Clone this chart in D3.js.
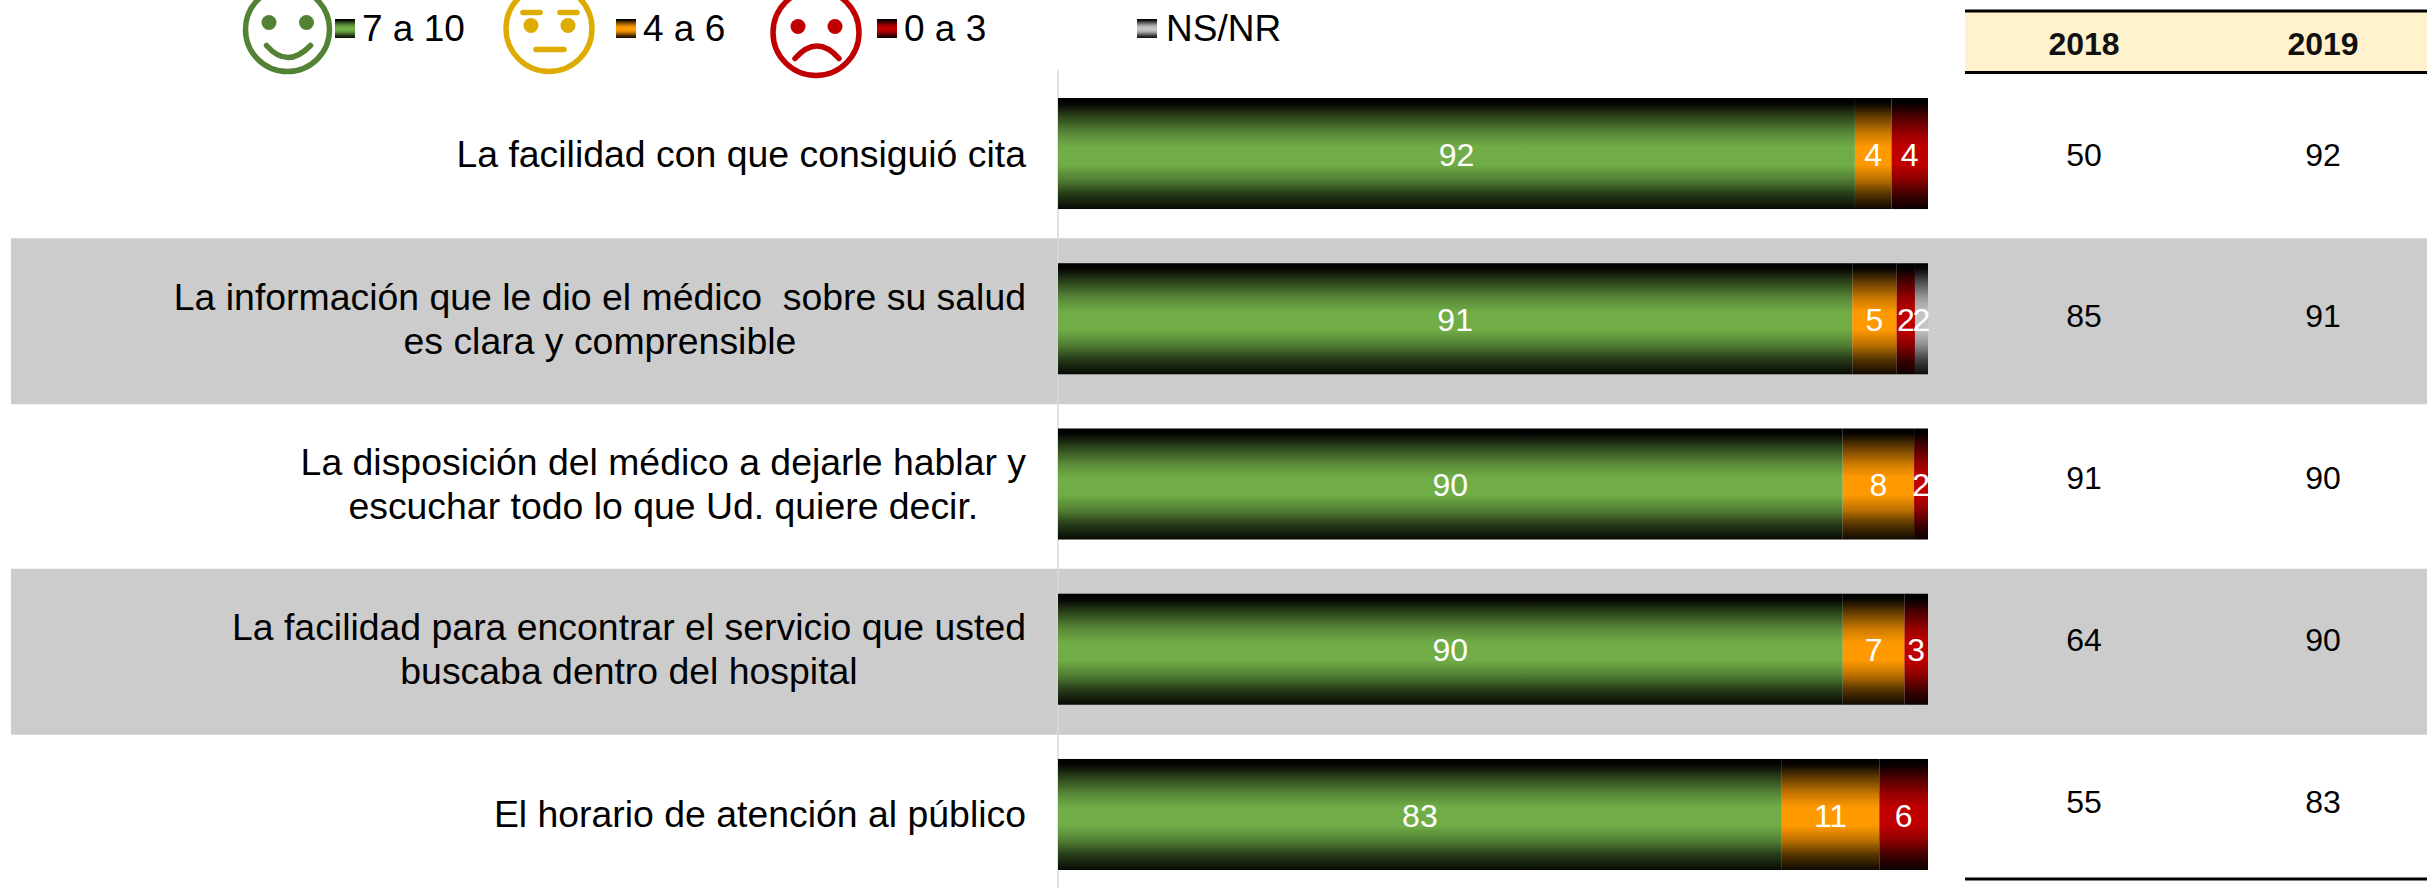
<!DOCTYPE html>
<html>
<head>
<meta charset="utf-8">
<script src="https://cdn.jsdelivr.net/npm/d3@7"></script>
<style>
    html, body { margin: 0; padding: 0; background: #fff; }
    svg { display: block; }
    text { font-family: "Liberation Sans", Arial, sans-serif; white-space: pre; }
</style>
</head>
<body>
<div id="chart"></div>
<script>
const questions = [
    ['La facilidad con que consiguió cita'],
    ['La información que le dio el médico  sobre su salud', 'es clara y comprensible'],
    ['La disposición del médico a dejarle hablar y', 'escuchar todo lo que Ud. quiere decir.'],
    ['La facilidad para encontrar el servicio que usted', 'buscaba dentro del hospital'],
    ['El horario de atención al público'],
]
const categories = ['facilidad', 'informacion', 'disposicion', 'servicio', 'horario']
const seriesNames = ['7 a 10', '4 a 6', '0 a 3', 'NS/NR']
const seriesColors = ['#70ad47', '#ff9900', '#c00000', '#c4c4c4']

// bar lengths, labels are the rounded figures it prints
const high = [91.6, 91.3, 90.2, 90.2, 83.2]
const mid = [4.2, 5.1, 8.2, 7.1, 11.2]
const low = [4.2, 2.1, 1.6, 2.7, 5.6]
const noAnswer = [0, 1.5, 0, 0, 0]
const highLabels = [92, 91, 90, 90, 83]
const midLabels = [4, 5, 8, 7, 11]
const lowLabels = [4, 2, 2, 3, 6]
const noAnswerLabels = [null, 2, null, null, null]

const years = ['2018', '2019']
const table2018 = [50, 85, 91, 64, 55]
const table2019 = [92, 91, 90, 90, 83]

const width = 2427
const height = 888

const svg = d3.select('#chart').append('svg')
    .attr('width', width)
    .attr('height', height)

// offset, share of the full colour: wide bright middle, dark edges
const gradientStops = [[0, 0], [0.05, 0.03], [0.17, 0.4], [0.32, 0.8], [0.44, 1], [0.6, 1], [0.74, 0.72], [0.86, 0.35], [1, 0.06]]

const defs = svg.append('defs')
seriesColors.forEach((color, i) => {
    const grad = defs.append('linearGradient')
        .attr('id', `grad${i}`)
        .attr('x1', 0).attr('y1', 0).attr('x2', 0).attr('y2', 1)
    const shade = d3.interpolateRgb('#000', color)
    gradientStops.forEach(s => {
        grad.append('stop').attr('offset', s[0]).attr('stop-color', shade(s[1]))
    })
})

const x = d3.scaleLinear().domain([0, 100]).range([1058, 1928])
const y = d3.scaleBand()
    .domain(categories)
    .range([70.9, 897.1])
    .paddingInner(0.328)
    .paddingOuter(0.164)
const tableY = d3.scalePoint().domain(categories).range([154.5, 801.5])
const tableX = d3.scalePoint().domain(years).range([2084, 2323])

// grey bands behind the even rows
svg.append('g').selectAll('rect')
    .data(categories.filter((d, i) => i % 2 === 1))
    .join('rect')
    .attr('x', 11)
    .attr('y', d => y(d) - 25)
    .attr('width', width - 11)
    .attr('height', 166)
    .attr('fill', '#cccccc')

svg.append('line')
    .attr('x1', x(0)).attr('x2', x(0))
    .attr('y1', 70).attr('y2', height)
    .attr('stroke', '#d9d9d9')
    .attr('stroke-width', 1.5)

const rows = categories.map((c, i) => ({
    category: c,
    high: high[i],
    mid: mid[i],
    low: low[i],
    noAnswer: noAnswer[i],
}))
const labelSets = [highLabels, midLabels, lowLabels, noAnswerLabels]
const stacked = d3.stack().keys(['high', 'mid', 'low', 'noAnswer'])(rows)

const layers = svg.append('g').selectAll('g')
    .data(stacked)
    .join('g')
    .attr('fill', (d, i) => `url(#grad${i})`)

layers.selectAll('rect')
    .data(d => d.filter(p => p[1] > p[0]))
    .join('rect')
    .attr('x', d => x(d[0]))
    .attr('y', d => y(d.data.category))
    .attr('width', d => x(d[1]) - x(d[0]))
    .attr('height', y.bandwidth())

// labels go on top of every layer, the last "2" overlaps its neighbour
stacked.forEach((layer, s) => {
    svg.append('g').selectAll('text')
        .data(layer.map((p, i) => ({ p, label: labelSets[s][i] })).filter(d => d.label !== null))
        .join('text')
        .attr('x', d => x((d.p[0] + d.p[1]) / 2))
        .attr('y', d => y(d.p.data.category) + y.bandwidth() / 2 + 1)
        .attr('dy', '0.35em')
        .attr('text-anchor', 'middle')
        .attr('fill', '#fff')
        .attr('font-size', 32)
        .text(d => d.label)
})

// question labels: block sits against the axis, lines centred inside it
const labelRight = 1026
const lineGap = 43.5
const questionGroups = svg.append('g').selectAll('text')
    .data(questions.map((lines, i) => ({ lines, category: categories[i] })))
    .join('text')
    .attr('font-size', 37.4)
    .attr('fill', '#000')
    .attr('text-anchor', 'middle')

questionGroups.each(function (d) {
    const node = d3.select(this)
    const mid = y(d.category) + y.bandwidth() / 2
    const spans = node.selectAll('tspan')
        .data(d.lines)
        .join('tspan')
        .text(l => l)
    const widest = d3.max(spans.nodes(), n => n.getComputedTextLength())
    spans
        .attr('x', labelRight - widest / 2)
        .attr('y', (l, i) => mid + (i - (d.lines.length - 1) / 2) * lineGap + 13)
})

// table
svg.append('rect')
    .attr('x', 1965).attr('y', 11)
    .attr('width', width - 1965).attr('height', 62)
    .attr('fill', '#fff2cc')

const rules = [11, 72.5, 879]
svg.append('g').selectAll('line')
    .data(rules)
    .join('line')
    .attr('x1', 1965).attr('x2', width)
    .attr('y1', d => d).attr('y2', d => d)
    .attr('stroke', '#000')
    .attr('stroke-width', 3)

svg.append('g').selectAll('text')
    .data(years)
    .join('text')
    .attr('x', d => tableX(d))
    .attr('y', 55)
    .attr('text-anchor', 'middle')
    .attr('font-weight', 'bold')
    .attr('font-size', 32)
    .attr('fill', '#111')
    .text(d => d)

const tableColumns = [table2018, table2019]
tableColumns.forEach((column, c) => {
    svg.append('g').selectAll('text')
        .data(column)
        .join('text')
        .attr('x', tableX(years[c]))
        .attr('y', (d, i) => tableY(categories[i]))
        .attr('dy', '0.35em')
        .attr('text-anchor', 'middle')
        .attr('font-size', 32)
        .attr('fill', '#000')
        .text(d => d)
})

// legend
const swatchX = [335, 616, 877, 1137]
const legendTextX = [362, 643, 904, 1166]
const legend = svg.append('g').selectAll('g')
    .data(seriesNames)
    .join('g')
legend.append('rect')
    .attr('x', (d, i) => swatchX[i])
    .attr('y', 19)
    .attr('width', 20)
    .attr('height', 19)
    .attr('fill', (d, i) => `url(#grad${i})`)
legend.append('text')
    .attr('x', (d, i) => legendTextX[i])
    .attr('y', 41)
    .attr('font-size', 37)
    .attr('fill', '#000')
    .text(d => d)

function drawFace(cx, cy, r, color, features) {
    const g = svg.append('g')
        .attr('transform', `translate(${cx},${cy})`)
        .attr('fill', 'none')
        .attr('stroke', color)
        .attr('stroke-width', 5.5)
        .attr('stroke-linecap', 'round')
    g.append('circle').attr('r', r - 2.5)
    features.eyes.forEach(e => {
        g.append('circle')
            .attr('cx', e[0]).attr('cy', e[1]).attr('r', 7.5)
            .attr('fill', color).attr('stroke', 'none')
    })
    features.paths.forEach(p => g.append('path').attr('d', p))
}

drawFace(287.5, 29.5, 44.5, '#548235', {
    eyes: [[-18.5, -7], [19, -7]],
    paths: ['M-21,16 Q0,40 23,16'],
})
drawFace(549, 28.5, 45.5, '#deab00', {
    eyes: [[-18, -3], [19, -3]],
    paths: ['M-26,-16 H-9', 'M11,-16 H28', 'M-13,21 H15'],
})
drawFace(816, 32.5, 45.5, '#c00000', {
    eyes: [[-18, -6], [19, -6]],
    paths: ['M-21,26 Q1,1 23,26'],
})
</script>
</body>
</html>
